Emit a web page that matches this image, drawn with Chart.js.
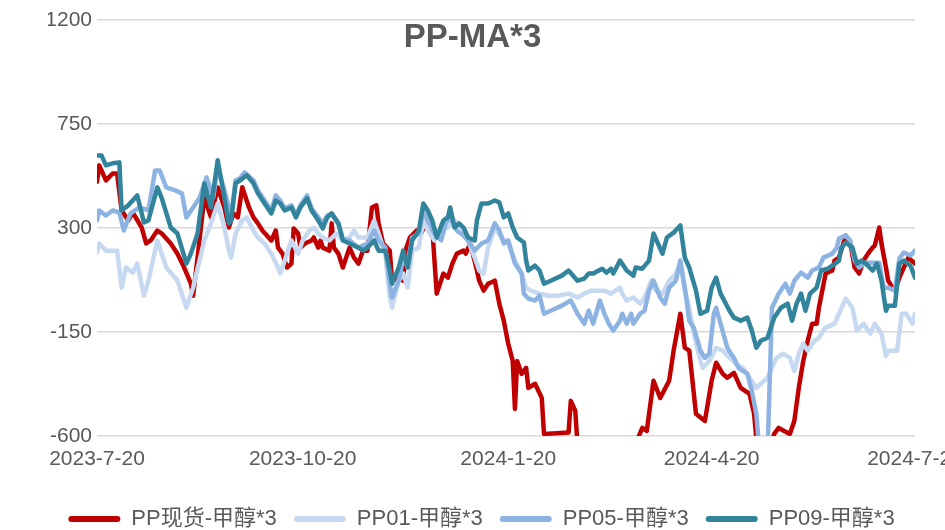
<!DOCTYPE html>
<html>
<head>
<meta charset="utf-8">
<title>PP-MA*3</title>
<script src="https://cdn.jsdelivr.net/npm/chart.js@4.4.1/dist/chart.umd.min.js"></script>
<style>
  html, body { margin: 0; padding: 0; background: #fff; }
  #wrap { width: 945px; height: 530px; position: relative; }
</style>
</head>
<body>
<div id="wrap"><canvas id="spreadChart"></canvas></div>
<script>
const TITLE = 'PP-MA*3';
const SERIES_NAMES = ['PP现货-甲醇*3', 'PP01-甲醇*3', 'PP05-甲醇*3', 'PP09-甲醇*3'];
const SERIES_COLORS = ['#c00000', '#c6d9f1', '#8db3e2', '#31849b'];

// x axis: days since 2023-7-20
const TICK_DAYS = [0, 92, 184, 275, 366];
const TICK_LABELS = ['2023-7-20', '2023-10-20', '2024-1-20', '2024-4-20', '2024-7-20'];
const Y_MIN = -600;
const Y_MAX = 1200;
const Y_STEP = 450;

// [day, value]
const ppSpot = [
  [0,500],[1,571],[4,506],[7,536],[9,536],[11,376],[14,333],[16,367],[20,302],[22,233],[24,246],[27,289],[29,276],
  [33,233],[36,189],[39,129],[42,59],[43,7],[45,172],[48,432],[51,346],[54,476],[57,389],[59,302],[61,363],[63,346],
  [65,476],[68,389],[70,346],[72,320],[74,289],[78,246],[80,289],[81,215],[83,189],[85,129],[87,146],[88,298],[90,276],
  [91,215],[93,233],[96,246],[97,259],[99,215],[100,246],[101,215],[104,202],[105,320],[106,215],[108,189],[110,129],
  [113,215],[115,172],[117,146],[119,202],[121,202],[123,389],[125,398],[126,320],[128,233],[131,202],[132,72],[135,85],
  [137,72],[138,202],[140,259],[143,289],[145,276],[148,346],[150,302],[152,16],[155,103],[157,85],[159,146],[161,189],
  [164,202],[165,189],[167,233],[170,116],[171,72],[173,29],[175,59],[178,72],[180,-27],[182,-101],[184,-201],[186,-275],
  [187,-483],[188,-275],[190,-331],[192,-305],[193,-392],[196,-374],[199,-435],[200,-591],[211,-585],[212,-448],[214,-491],
  [215,-640],[226,-720],[239,-690],[242,-610],[244,-565],[246,-578],[249,-361],[252,-435],[256,-361],[258,-231],[261,-71],
  [263,-218],[265,-231],[268,-504],[272,-535],[275,-361],[277,-283],[280,-331],[282,-348],[285,-327],[288,-392],[292,-418],
  [294,-504],[295,-610],[300,-690],[303,-591],[305,-565],[310,-591],[312,-535],[314,-392],[316,-275],[318,-188],[320,-114],
  [322,-114],[323,-45],[326,103],[329,116],[330,159],[332,172],[335,267],[337,237],[339,129],[341,103],[343,159],[345,189],
  [347,215],[348,224],[350,302],[351,233],[353,129],[354,72],[356,42],[357,29],[359,85],[361,129],[363,172],[366,146]
];

const pp01 = [
  [0,194],[1,233],[4,202],[6,202],[9,202],[11,42],[13,129],[16,107],[18,146],[21,7],[23,72],[27,246],[31,129],[36,72],
  [40,-45],[43,42],[48,246],[51,320],[54,406],[57,302],[59,202],[60,172],[62,276],[65,333],[67,346],[70,289],[72,259],
  [75,233],[78,189],[81,129],[82,103],[84,159],[87,246],[90,189],[92,246],[95,289],[97,302],[99,276],[101,259],[104,246],
  [107,276],[110,246],[113,259],[115,289],[117,259],[121,259],[124,333],[126,276],[129,189],[131,-1],[132,-45],[135,72],
  [137,103],[139,42],[141,202],[144,215],[146,333],[148,289],[151,246],[154,289],[157,302],[160,333],[163,302],[166,246],
  [169,172],[171,116],[173,103],[175,215],[178,302],[181,259],[184,233],[187,159],[190,103],[192,42],[194,29],[198,16],
  [202,7],[206,7],[211,16],[215,-1],[218,16],[221,29],[224,29],[227,29],[230,16],[234,42],[235,16],[237,-14],[240,-1],
  [243,-27],[245,-1],[248,72],[250,29],[253,16],[256,72],[259,103],[261,146],[263,29],[265,-45],[267,-157],[270,-275],
  [271,-305],[274,-275],[277,-218],[280,-231],[283,-262],[286,-288],[289,-305],[292,-348],[295,-392],[297,-374],[300,-348],
  [302,-305],[304,-262],[307,-244],[310,-262],[312,-318],[314,-244],[316,-201],[318,-231],[321,-188],[323,-175],[326,-131],
  [330,-114],[332,-71],[335,-5],[338,-45],[340,-144],[343,-114],[346,-157],[348,-114],[351,-157],[353,-253],[354,-231],
  [358,-231],[360,-71],[362,-71],[365,-114],[366,-71]
];

const pp05 = [
  [0,333],[1,376],[4,354],[7,376],[10,367],[12,289],[15,363],[19,389],[23,376],[26,549],[28,549],[31,476],[35,463],
  [38,450],[40,346],[43,389],[46,432],[49,519],[52,432],[54,562],[57,463],[59,389],[60,354],[62,506],[64,515],[66,541],
  [70,506],[72,463],[75,419],[78,376],[80,441],[82,419],[84,385],[87,398],[89,354],[91,398],[94,441],[96,385],[99,346],
  [101,320],[103,354],[105,363],[108,320],[110,254],[113,246],[117,215],[121,233],[124,289],[126,246],[129,215],[131,59],
  [132,-1],[135,72],[137,172],[139,129],[141,259],[144,276],[146,376],[148,333],[151,276],[154,246],[156,320],[158,346],
  [161,289],[163,276],[166,246],[169,202],[172,233],[175,246],[178,320],[180,289],[182,233],[184,246],[187,146],[190,103],
  [191,16],[193,-5],[196,-14],[198,7],[200,-71],[203,-58],[208,-36],[212,-14],[215,-71],[218,-114],[220,-58],[222,-114],
  [225,-14],[227,-71],[229,-114],[231,-144],[234,-101],[235,-71],[237,-114],[239,-71],[240,-114],[243,-71],[245,-58],
  [247,29],[249,72],[252,-1],[254,-27],[256,42],[259,72],[261,159],[263,42],[265,-101],[267,-131],[270,-231],[272,-262],
  [274,-244],[276,-71],[277,-45],[279,-114],[282,-218],[285,-262],[287,-305],[291,-331],[293,-405],[295,-504],[296,-620],
  [298,-700],[300,-680],[302,-45],[305,16],[308,59],[310,16],[312,72],[315,107],[318,85],[320,116],[323,129],[325,172],
  [329,189],[331,215],[332,254],[335,267],[337,246],[339,159],[341,129],[344,150],[347,150],[350,150],[352,42],[354,42],
  [357,29],[359,168],[361,194],[364,181],[366,202]
];

const pp09 = [
  [0,614],[2,614],[4,571],[7,580],[10,584],[11,376],[14,398],[18,441],[21,324],[23,333],[27,476],[29,428],[33,302],
  [36,276],[40,146],[42,189],[45,276],[48,493],[51,389],[54,593],[57,432],[59,320],[60,333],[62,493],[64,506],[67,528],
  [70,493],[72,450],[75,406],[78,363],[80,419],[82,406],[84,376],[87,389],[89,346],[91,389],[94,428],[96,376],[99,333],
  [101,298],[103,346],[105,363],[108,320],[110,246],[113,233],[117,215],[119,202],[121,215],[124,246],[126,202],[129,202],
  [131,116],[132,59],[135,129],[137,202],[139,129],[141,246],[144,289],[146,406],[148,376],[150,333],[152,259],[155,333],
  [157,346],[158,389],[160,302],[162,320],[164,302],[166,259],[169,246],[170,333],[172,406],[175,406],[178,419],[180,411],
  [182,346],[184,363],[186,302],[188,259],[191,237],[192,159],[193,116],[196,137],[198,116],[200,59],[203,72],[208,94],
  [211,116],[215,72],[218,81],[220,103],[222,103],[226,124],[228,107],[230,124],[231,103],[234,159],[237,116],[240,94],
  [241,129],[244,124],[247,159],[249,276],[251,233],[253,189],[255,259],[258,280],[261,311],[263,172],[265,129],[268,29],
  [270,-71],[273,-58],[275,42],[277,85],[279,16],[283,-58],[285,-88],[288,-101],[291,-88],[293,-144],[295,-218],[297,-188],
  [300,-175],[303,-88],[306,-45],[309,-27],[311,-101],[313,-27],[315,16],[317,-58],[319,16],[322,42],[324,116],[327,124],
  [329,137],[332,159],[333,215],[335,237],[338,215],[340,146],[342,159],[344,146],[347,116],[349,146],[351,72],[353,-58],
  [354,-36],[357,-36],[359,146],[361,159],[364,137],[366,85]
];

const SERIES_DATA = [ppSpot, pp01, pp05, pp09];

const FONT_FAMILY = "'Liberation Sans', Arial, 'Noto Sans CJK SC', sans-serif";
const TEXT_COLOR = '#595959';

/**
 * Draws the chart title inside the plot area, like the original
 */
const insideTitle = {
  id: 'insideTitle',
  afterDraw(chart) {
    const ctx = chart.ctx;
    ctx.save();
    ctx.font = `bold 33px ${FONT_FAMILY}`;
    ctx.fillStyle = TEXT_COLOR;
    ctx.textAlign = 'center';
    ctx.textBaseline = 'alphabetic';
    ctx.fillText(TITLE, chart.width / 2, chart.chartArea.top + 27);
    ctx.restore();
  },
};

const datasets = SERIES_DATA.map((series, idx) => ({
  label: SERIES_NAMES[idx],
  data: series.map(p => ({ x: p[0], y: p[1] })),
  borderColor: SERIES_COLORS[idx],
  backgroundColor: SERIES_COLORS[idx],
  borderWidth: 4.5,
  borderJoinStyle: 'round',
  borderCapStyle: 'round',
  pointRadius: 0,
  tension: 0,
  fill: false,
  // later series sit on top, as in the original
  order: SERIES_DATA.length - 1 - idx,
}));

new Chart(document.getElementById('spreadChart'), {
  type: 'line',
  data: { datasets },
  plugins: [insideTitle],
  options: {
    responsive: true,
    maintainAspectRatio: false,
    animation: false,
    layout: { padding: { left: 48, right: 30, top: 20, bottom: -10 } },
    plugins: {
      title: { display: false },
      tooltip: { enabled: false },
      legend: {
        position: 'bottom',
        labels: {
          boxWidth: 52,
          boxHeight: 6,
          padding: 17,
          color: TEXT_COLOR,
          font: { size: 22, family: FONT_FAMILY },
          useBorderRadius: true,
          borderRadius: 3,
          generateLabels: (chart) =>
            Chart.defaults.plugins.legend.labels.generateLabels(chart)
              .map(item => ({ ...item, lineWidth: 0, fillStyle: item.strokeStyle }))
              .sort((a, b) => a.datasetIndex - b.datasetIndex),
        },
      },
    },
    scales: {
      x: {
        type: 'linear',
        min: TICK_DAYS[0],
        max: TICK_DAYS[TICK_DAYS.length - 1],
        afterBuildTicks: (scale) => {
          scale.ticks = TICK_DAYS.map(v => ({ value: v }));
        },
        afterFit: (scale) => {
          scale.paddingLeft = 0;
          scale.paddingRight = 0;
          scale.height = 55;
        },
        ticks: {
          autoSkip: false,
          maxRotation: 0,
          padding: 3,
          color: TEXT_COLOR,
          font: { size: 21, family: FONT_FAMILY },
          callback: (value, index) => TICK_LABELS[index],
        },
        grid: { display: false },
        border: { display: false },
      },
      y: {
        min: Y_MIN,
        max: Y_MAX,
        afterFit: (scale) => {
          scale.width = 49;
        },
        ticks: {
          stepSize: Y_STEP,
          padding: 5,
          color: TEXT_COLOR,
          font: { size: 21, family: FONT_FAMILY },
          callback: (value) => String(value),
        },
        grid: { color: '#d9d9d9', lineWidth: 1.5, drawTicks: false },
        border: { display: false },
      },
    },
  },
});
</script>
</body>
</html>
